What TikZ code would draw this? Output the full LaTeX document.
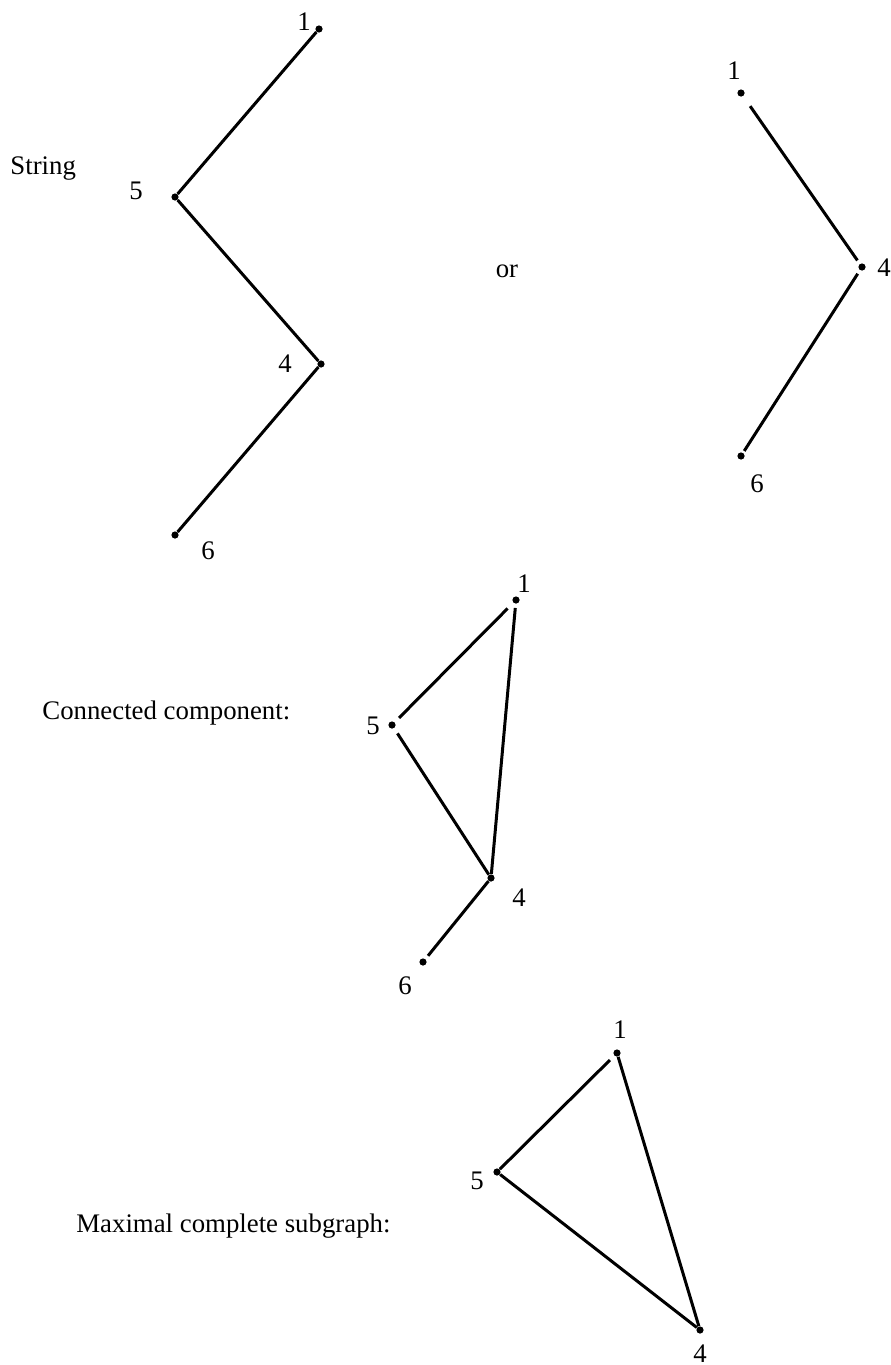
\documentclass[tikz,border=0pt]{standalone}
\usepackage{fontspec}
\setmainfont{Liberation Serif}

\begin{document}
\begin{tikzpicture}[x=0.5pt, y=-0.5pt,
    vtx/.style={circle, fill=black, inner sep=0pt, minimum size=3.6pt},
    num/.style={font=\fontsize{13.4}{15}\selectfont, inner sep=0pt, anchor=base},
    caption/.style={font=\fontsize{13.4}{15}\selectfont, inner sep=0pt, anchor=base west},
    link/.style={line width=1.5pt}]
    \useasboundingbox (0,0) rectangle (890,1365);

    % string, first drawing
    \node[caption] (tstring) at (10,174) {String};
    \node[vtx] (s1) at (319,29) {};
    \node[vtx] (s5) at (175,197) {};
    \node[vtx] (s4) at (321,364) {};
    \node[vtx] (s6) at (175,535) {};
    \node[num] (ls1) at (304,31) {1};
    \node[num] (ls5) at (136,199) {5};
    \node[num] (ls4) at (285,372) {4};
    \node[num] (ls6) at (208,559) {6};
    \draw[link] (s1) -- (s5) -- (s4) -- (s6);

    % string, second drawing
    \node[num] (tor) at (507,277) {or};
    \node[vtx] (o1) at (741,93) {};
    \node[vtx] (o4) at (862,267) {};
    \node[vtx] (o6) at (741,456) {};
    \node[num] (lo1) at (734,79) {1};
    \node[num] (lo4) at (884,276) {4};
    \node[num] (lo6) at (757,492) {6};
    \draw[link, shorten <=6pt, shorten >=2pt] (o1) -- (o4);
    \draw[link, shorten <=2pt, shorten >=1pt] (o4) -- (o6);

    % connected component
    \node[caption] (tconn) at (42,719) {Connected component:};
    \node[vtx] (c1) at (516,600) {};
    \node[vtx] (c5) at (392,725) {};
    \node[vtx] (c4) at (491,878) {};
    \node[vtx] (c6) at (423,962) {};
    \node[num] (lc1) at (524,592) {1};
    \node[num] (lc5) at (373,734) {5};
    \node[num] (lc4) at (519,906) {4};
    \node[num] (lc6) at (405,994) {6};
    \draw[link, shorten <=4pt, shorten >=3pt] (c1) -- (c5);
    \draw[link, shorten <=2pt] (c1) -- (c4);
    \draw[link, shorten <=3pt] (c5) -- (c4);
    \draw[link, shorten >=2pt] (c4) -- (c6);

    % maximal complete subgraph
    \node[caption] (tmax) at (76,1232) {Maximal complete subgraph:};
    \node[vtx] (m1) at (617,1053) {};
    \node[vtx] (m5) at (497,1172) {};
    \node[vtx] (m4) at (700,1330) {};
    \node[num] (lm1) at (620,1038) {1};
    \node[num] (lm5) at (477,1189) {5};
    \node[num] (lm4) at (700,1362) {4};
    \draw[link, shorten <=3pt] (m1) -- (m5);
    \draw[link] (m1) -- (m4);
    \draw[link] (m5) -- (m4);
\end{tikzpicture}
\end{document}
